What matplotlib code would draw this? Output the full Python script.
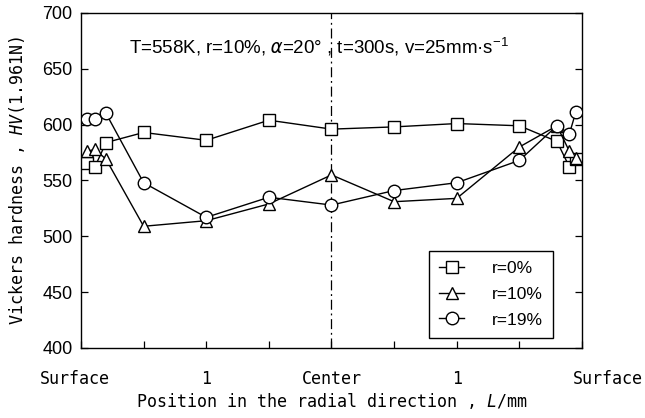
import matplotlib
matplotlib.use("Agg")
import matplotlib.pyplot as plt
import matplotlib.transforms as mtransforms

plt.rcParams["mathtext.fontset"] = "custom"
plt.rcParams["mathtext.rm"] = "Liberation Sans"
plt.rcParams["mathtext.it"] = "DejaVu Sans Mono:italic"

# position along the radius (mm, centre = 0, surfaces at +-2)
pos = [-1.95, -1.89, -1.8, -1.5, -1.0, -0.5, 0.0, 0.5, 1.0, 1.5, 1.8, 1.9, 1.95]

hv_r0 = [566, 562, 584, 593, 586, 604, 596, 598, 601, 599, 585, 562, 569]
hv_r10 = [576, 578, 569, 509, 514, 529, 555, 531, 534, 580, 599, 576, 570]
hv_r19 = [605, 605, 610, 548, 517, 535, 528, 541, 548, 568, 599, 592, 611]

series = [("r=0%", hv_r0, "s"), ("r=10%", hv_r10, "^"), ("r=19%", hv_r19, "o")]

xtick_pos = [-2, -1, 0, 1, 2]
xtick_labels = ["Surface", "1", "Center", "1", "Surface"]
minor_pos = [-1.5, -0.5, 0.5, 1.5]
ytick_pos = [400, 450, 500, 550, 600, 650, 700]

fig = plt.figure(figsize=(6.45, 4.18), dpi=100)
ax = fig.add_axes([0.1256, 0.1675, 0.7767, 0.8014])

ax.axvline(0, color="black", lw=0.9, ls=(0, (8, 3, 1.5, 3)), zorder=1)

for label, vals, mk in series:
    ax.plot(pos, vals, color="black", lw=1.0, marker=mk, ms=9,
            mfc="white", mec="black", mew=1.0, label=label, zorder=3)

ax.set_xlim(-2, 2)
ax.set_ylim(400, 700)
ax.set_yticks(ytick_pos)
ax.set_xticks(xtick_pos)
ax.set_xticks(minor_pos, minor=True)
ax.set_xticklabels(xtick_labels, fontfamily="DejaVu Sans Mono", fontsize=12)
for t in ax.get_yticklabels():
    t.set_fontfamily("Liberation Sans")
    t.set_fontsize(13)

ax.tick_params(axis="both", which="both", direction="in", length=5, width=0.9,
               right=True, top=False)
ax.tick_params(axis="x", which="both", pad=16)
ax.tick_params(axis="y", pad=6)

# shift the two "Surface" labels like in the original (offsets in pixels / 100)
xl = ax.get_xticklabels()
xl[0].set_transform(xl[0].get_transform() + mtransforms.ScaledTranslation(-0.06, 0, fig.dpi_scale_trans))
xl[-1].set_transform(xl[-1].get_transform() + mtransforms.ScaledTranslation(0.26, 0, fig.dpi_scale_trans))

for sp in ax.spines.values():
    sp.set_linewidth(1.0)

ax.set_xlabel("Position in the radial direction , $\\it{L}$/mm",
              fontfamily="DejaVu Sans Mono", fontsize=12, labelpad=2)
ax.set_ylabel("Vickers hardness , $\\it{HV}$(1.961N)",
              fontfamily="DejaVu Sans Mono", fontsize=12, labelpad=11)

ax.text(0.095, 0.9, "T=558K, r=10%, $\\alpha$=20\u00b0 , t=300s, v=25mm\u00b7s$^{-1}$",
        transform=ax.transAxes, fontfamily="Liberation Sans", fontsize=13.5,
        va="center", ha="left")

leg = ax.legend(loc="lower right", bbox_to_anchor=(0.942, 0.03), borderaxespad=0,
                frameon=True, fancybox=False, edgecolor="black", framealpha=1,
                prop={"family": "Liberation Sans", "size": 12.5},
                handlelength=1.4, labelspacing=0.6, borderpad=0.6, handletextpad=1.6)
leg.get_frame().set_linewidth(1.0)

fig.savefig("out.png", dpi=100)
